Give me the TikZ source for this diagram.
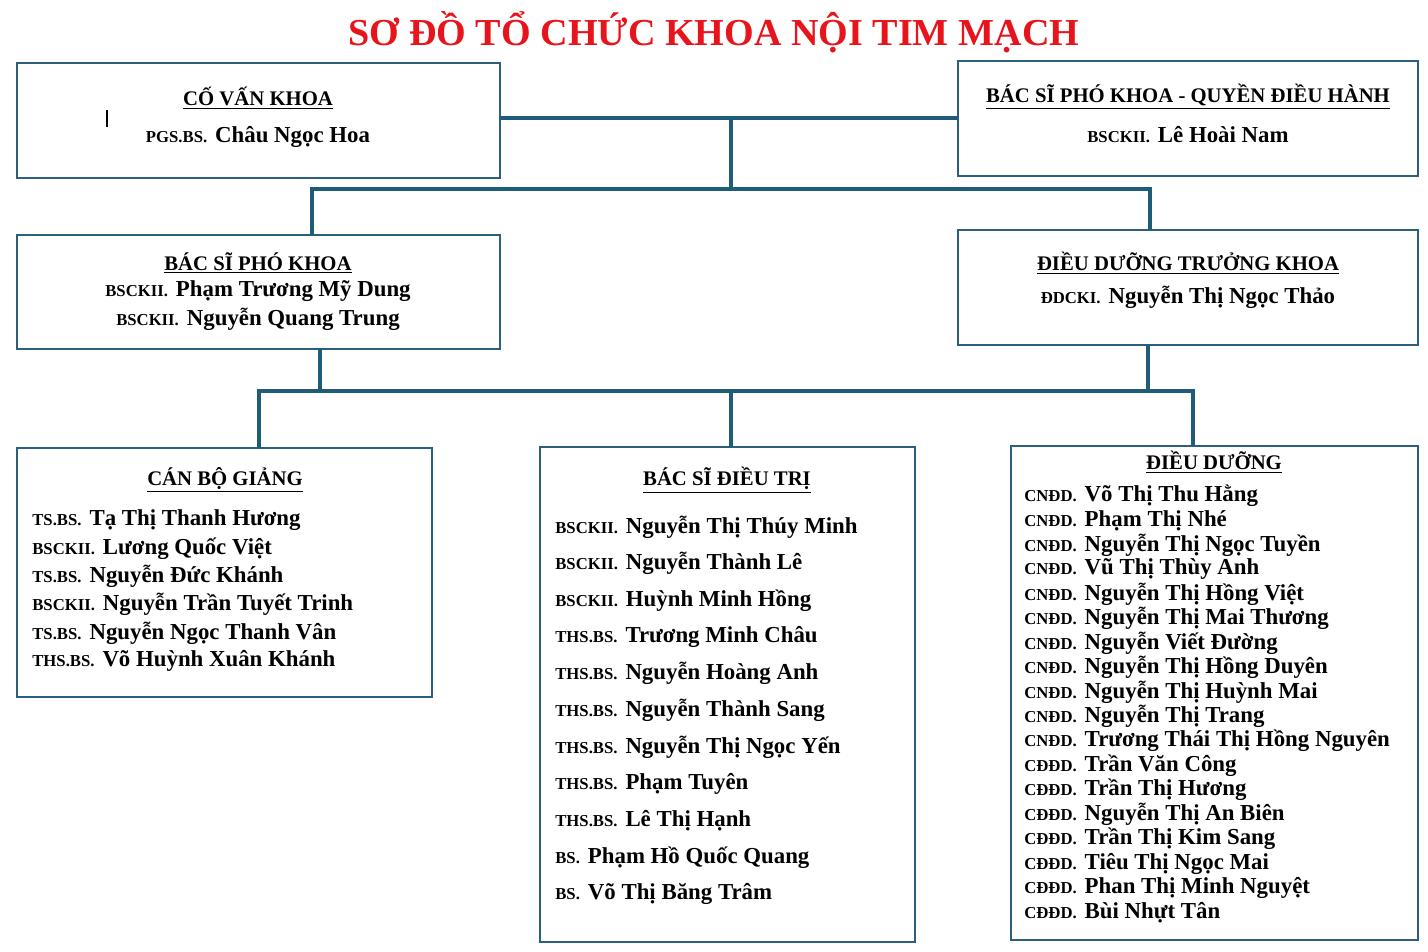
\documentclass[tikz,border=0pt]{standalone}
\usepackage{fontspec}
\setmainfont{Liberation Serif}
\begin{document}
\begin{tikzpicture}[x=0.02cm,y=-0.02cm,
  box/.style={draw=boxc,line width=1.3pt},
  conn/.style={draw=linec,line width=2.8pt},
  hd/.style={font=\bfseries\fontsize{11.8}{13}\selectfont,inner sep=0pt},
  nm/.style={font=\bfseries\fontsize{13}{15}\selectfont,anchor=west,inner sep=0pt},
  nmc/.style={font=\bfseries\fontsize{13}{15}\selectfont,inner sep=0pt}]
\definecolor{boxc}{HTML}{2A5F7E}
\definecolor{linec}{HTML}{1F5C7A}
\definecolor{titlec}{HTML}{E8141B}
\newcommand{\pf}[1]{{\fontsize{9.5}{11}\selectfont #1}\hspace{0.35em}}
\useasboundingbox (0,0) rectangle (1428,951);
\node[font=\bfseries\fontsize{21.7}{24}\selectfont,text=titlec] (title) at (714,32) {SƠ ĐỒ TỔ CHỨC KHOA NỘI TIM MẠCH};
% boxes
\draw[box] (17,63) rectangle (500,178);
\coordinate (cvR) at (500,118);
\draw[box] (958,61) rectangle (1418,176);
\coordinate (qL) at (958,118);
\draw[box] (17,235) rectangle (500,349);
\draw[box] (958,230) rectangle (1418,345);
\draw[box] (17,448) rectangle (432,697);
\draw[box] (540,447) rectangle (915,942);
\draw[box] (1011,446) rectangle (1418,940);
\coordinate (pkT) at (312,235); \coordinate (ddtT) at (1150,230);
\coordinate (pkB) at (320,349); \coordinate (ddtB) at (1148,345);
\coordinate (cbT) at (259,448); \coordinate (dtT) at (731,447); \coordinate (ddT) at (1193,446);
% connectors
\draw[conn] (cvR) -- (qL);
\draw[conn] (731,118) -- (731,189);
\draw[conn] (pkT) |- (ddtT |- 0,189) -- (ddtT);
\draw[conn] (pkB) -- (320,391);
\draw[conn] (ddtB) -- (1148,391);
\draw[conn] (cbT) |- (ddT |- 0,391) -- (ddT);
\draw[conn] (dtT) -- (731,391);
\draw[black,line width=0.6pt] (107,110) -- (107,127);
% texts top
\node[hd] (h1) at (258,98) {\underline{CỐ VẤN KHOA}};
\node[nmc] (t1) at (258,137) {\pf{PGS.BS.}Châu Ngọc Hoa};
\node[hd] (h2) at (1188,97) {\underline{BÁC SĨ PHÓ KHOA - QUYỀN ĐIỀU HÀNH}};
\node[nmc] (t2) at (1188,135) {\pf{BSCKII.}Lê Hoài Nam};
\node[hd] (h3) at (258,263) {\underline{BÁC SĨ PHÓ KHOA}};
\node[nmc] (t3) at (258,291) {\pf{BSCKII.}Phạm Trương Mỹ Dung};
\node[nmc] (t4) at (258,319) {\pf{BSCKII.}Nguyễn Quang Trung};
\node[hd] (h4) at (1188,263) {\underline{ĐIỀU DƯỠNG TRƯỞNG KHOA}};
\node[nmc] (t5) at (1188,297) {\pf{ĐDCKI.}Nguyễn Thị Ngọc Thảo};
% can bo giang
\node[hd] (h5) at (225,480) {\underline{CÁN BỘ GIẢNG}};
\foreach \p/\n [count=\i] in {TS.BS./Tạ Thị Thanh Hương, BSCKII./Lương Quốc Việt, TS.BS./Nguyễn Đức Khánh, BSCKII./Nguyễn Trần Tuyết Trinh, TS.BS./Nguyễn Ngọc Thanh Vân, THS.BS./Võ Huỳnh Xuân Khánh}
  \node[nm] (cb\i) at (32,{492+28.2*\i}) {\pf{\p}\n};
% bac si dieu tri
\node[hd] (h6) at (727,480) {\underline{BÁC SĨ ĐIỀU TRỊ}};
\foreach \p/\n [count=\i] in {BSCKII./Nguyễn Thị Thúy Minh, BSCKII./Nguyễn Thành Lê, BSCKII./Huỳnh Minh Hồng, THS.BS./Trương Minh Châu, THS.BS./Nguyễn Hoàng Anh, THS.BS./Nguyễn Thành Sang, THS.BS./Nguyễn Thị Ngọc Yến, THS.BS./Phạm Tuyên, THS.BS./Lê Thị Hạnh, BS./Phạm Hồ Quốc Quang, BS./Võ Thị Băng Trâm}
  \node[nm] (dt\i) at (555,{490.3+36.7*\i}) {\pf{\p}\n};
% dieu duong
\node[hd] (h7) at (1214,462) {\underline{ĐIỀU DƯỠNG}};
\foreach \p/\n [count=\i] in {CNĐD./Võ Thị Thu Hằng, CNĐD./Phạm Thị Nhé, CNĐD./Nguyễn Thị Ngọc Tuyền, CNĐD./Vũ Thị Thùy Anh, CNĐD./Nguyễn Thị Hồng Việt, CNĐD./Nguyễn Thị Mai Thương, CNĐD./Nguyễn Viết Đường, CNĐD./Nguyễn Thị Hồng Duyên, CNĐD./Nguyễn Thị Huỳnh Mai, CNĐD./Nguyễn Thị Trang, CNĐD./Trương Thái Thị Hồng Nguyên, CĐĐD./Trần Văn Công, CĐĐD./Trần Thị Hương, CĐĐD./Nguyễn Thị An Biên, CĐĐD./Trần Thị Kim Sang, CĐĐD./Tiêu Thị Ngọc Mai, CĐĐD./Phan Thị Minh Nguyệt, CĐĐD./Bùi Nhựt Tân}
  \node[nm] (dd\i) at (1024,{471.5+24.5*\i}) {\pf{\p}\n};
\end{tikzpicture}
\end{document}
